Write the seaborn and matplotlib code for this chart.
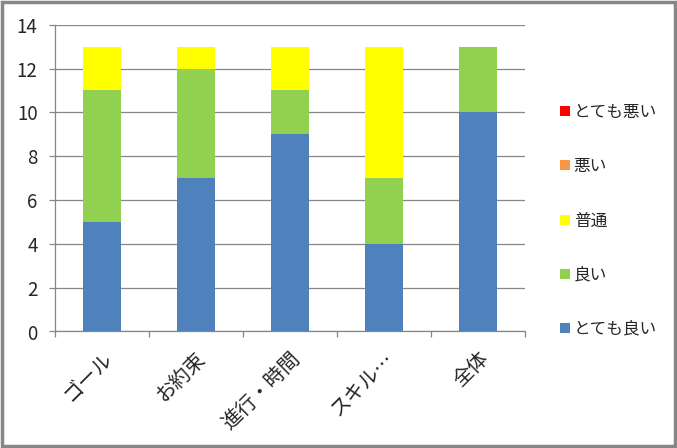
import matplotlib
matplotlib.use("Agg")
import matplotlib.pyplot as plt
import seaborn as sns
import pandas as pd
import numpy as np
from matplotlib.patches import Patch, FancyBboxPatch

categories = ["ゴール", "お約束", "進行・時間", "スキル…", "全体"]
series_names = ["とても良い", "良い", "普通", "悪い", "とても悪い"]
very_good = [5, 7, 9, 4, 10]
good = [6, 5, 2, 3, 3]
neutral = [2, 1, 2, 6, 0]
bad = [0, 0, 0, 0, 0]
very_bad = [0, 0, 0, 0, 0]
colors = ["#4F81BD", "#92D050", "#FFFF00", "#F79646", "#FF0000"]
yticks = [0, 2, 4, 6, 8, 10, 12, 14]

sns.set_theme(style="white")
plt.rcParams["font.family"] = ["Noto Sans CJK JP", "DejaVu Sans"]

values = [very_good, good, neutral, bad, very_bad]
cum = np.cumsum(np.array(values), axis=0)

fig = plt.figure(figsize=(6.77, 4.48), dpi=100)
ax = fig.add_axes([55/677, 1-331.5/448, (525-55)/677, (331.5-24.7)/448])

# draw from top of stack down so lower segments overlay upper ones
for i in range(len(series_names) - 1, -1, -1):
    df = pd.DataFrame({"cat": categories, "val": cum[i]})
    sns.barplot(data=df, x="cat", y="val", color=colors[i], width=0.4,
                saturation=1, ax=ax, zorder=3, linewidth=0)

ax.set_ylim(0, 14)
ax.set_yticks(yticks)
ax.set_xlim(-0.5, len(categories) - 0.5)
ax.set_xlabel("")
ax.set_ylabel("")
ax.yaxis.grid(True, color="#868686", linewidth=0.9, zorder=0)
ax.set_axisbelow(True)
for s in ["top", "right"]:
    ax.spines[s].set_visible(False)
for s in ["left", "bottom"]:
    ax.spines[s].set_color("#868686")
    ax.spines[s].set_linewidth(0.9)

ax.tick_params(axis="y", which="major", length=4.5, width=0.9, color="#868686",
               direction="out", left=True, labelsize=13.5, pad=8)
ax.set_xticks(np.arange(len(categories)))
ax.set_xticklabels(categories, rotation=45, ha="right", rotation_mode="anchor",
                   fontsize=14.5)
ax.tick_params(axis="x", length=0, pad=12)
# category separator ticks
ax.set_xticks(np.arange(len(categories) + 1) - 0.5, minor=True)
ax.tick_params(axis="x", which="minor", length=4.5, width=0.9, color="#868686",
               direction="out", bottom=True)

handles = [Patch(facecolor=colors[i], edgecolor="none", label=series_names[i])
           for i in range(len(series_names) - 1, -1, -1)]
leg = fig.legend(handles=handles, loc="center left",
                 bbox_to_anchor=(552/677, 1-221/448), frameon=False,
                 fontsize=12, handlelength=0.55, handleheight=0.55,
                 handletextpad=0.25, labelspacing=2.23, borderpad=0)

border = FancyBboxPatch((0.003, 0.004), 0.994, 0.992, boxstyle="square,pad=0",
                        transform=fig.transFigure, fill=False,
                        edgecolor="#868686", linewidth=2.5)
fig.patches.append(border)

fig.savefig("out.png", dpi=100)
